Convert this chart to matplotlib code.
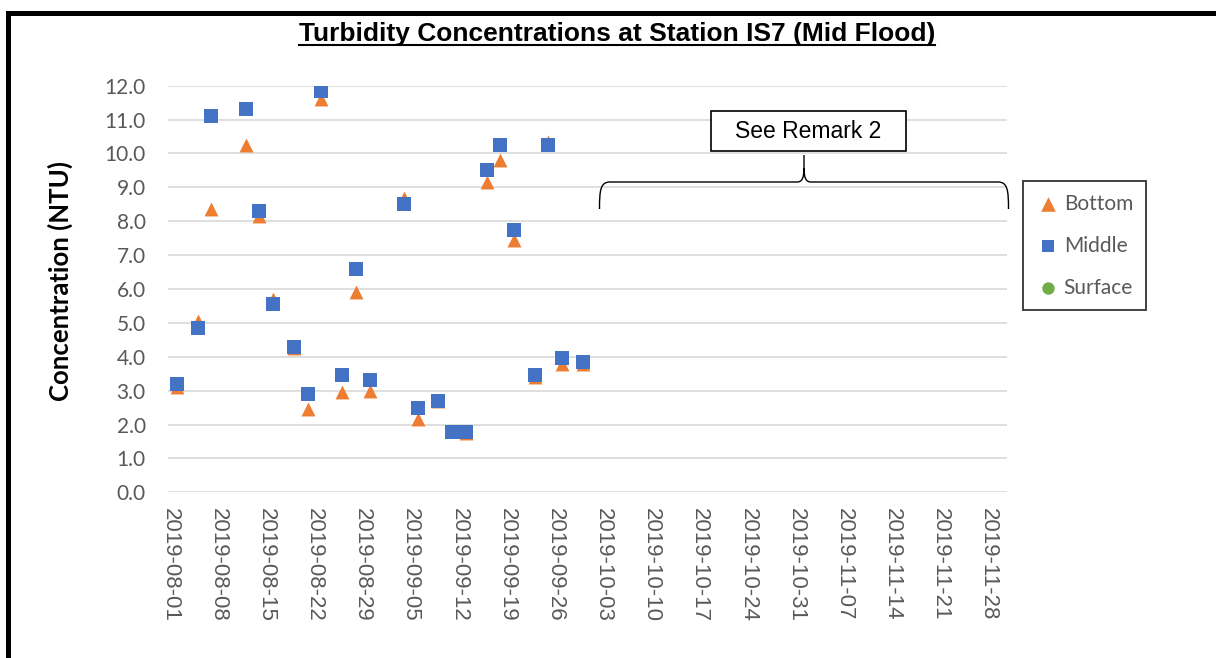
import matplotlib
matplotlib.use('Agg')
import matplotlib.pyplot as plt
import matplotlib.dates as mdates
import matplotlib.transforms as mtransforms
from matplotlib.path import Path
from matplotlib.patches import PathPatch, Rectangle
from matplotlib.lines import Line2D
import numpy as np
import pandas as pd

# sampling dates and turbidity readings (NTU)
dates = pd.to_datetime(['2019-08-02', '2019-08-05', '2019-08-07', '2019-08-12', '2019-08-14',
                        '2019-08-16', '2019-08-19', '2019-08-21', '2019-08-23', '2019-08-26',
                        '2019-08-28', '2019-08-30', '2019-09-04', '2019-09-06', '2019-09-09',
                        '2019-09-11', '2019-09-13', '2019-09-16', '2019-09-18', '2019-09-20',
                        '2019-09-23', '2019-09-25', '2019-09-27', '2019-09-30'])
bottom = [3.10, 5.05, 8.35, 10.25, 8.15, 5.70, 4.25, 2.45, 11.60, 2.95, 5.90, 3.00,
          8.70, 2.15, 2.70, 1.80, 1.75, 9.15, 9.80, 7.45, 3.40, 10.35, 3.80, 3.80]
middle = [3.20, 4.85, 11.10, 11.30, 8.30, 5.55, 4.30, 2.90, 11.85, 3.45, 6.60, 3.30,
          8.50, 2.50, 2.70, 1.77, 1.77, 9.50, 10.25, 7.75, 3.45, 10.25, 3.95, 3.85]
surface_dates = []
surface = []

tick_dates = pd.date_range('2019-08-01', '2019-11-28', freq='7D')
y_ticks = np.arange(0, 12.1, 1.0)

W, H = 1216, 658
fig = plt.figure(figsize=(W / 100, H / 100), dpi=100, facecolor='white')
ax = fig.add_axes([168 / W, 1 - 492.3 / H, (1006.7 - 168) / W, (492.3 - 85.7) / H])

# pixel coords (from top-left) -> figure
px = mtransforms.Affine2D().scale(1 / W, -1 / H).translate(0, 1) + fig.transFigure

grey = '#595959'
ax.scatter(dates, bottom, marker='^', s=100, color='#ED7D31', linewidths=0, zorder=3, label='Bottom')
ax.scatter(dates, middle, marker='s', s=100, color='#4472C4', linewidths=0, zorder=4, label='Middle')
ax.scatter(surface_dates, surface, marker='o', s=100, color='#70AD47', linewidths=0, zorder=5, label='Surface')

start = pd.Timestamp('2019-08-01')
ax.set_xlim(start - pd.Timedelta(hours=7), start + pd.Timedelta(days=121.6))
ax.set_ylim(0, 12)
ax.set_yticks(y_ticks)
ax.set_yticklabels(['%.1f' % v for v in y_ticks], fontname='Lato', fontsize=15, color=grey)
ax.set_xticks(tick_dates)
ax.xaxis.set_major_formatter(mdates.DateFormatter('%Y-%m-%d'))
for lab in ax.get_xticklabels():
    lab.set_rotation(-90)
    lab.set_fontname('Liberation Sans')
    lab.set_fontsize(16)
    lab.set_color(grey)
    lab.set_va('top')
    lab.set_ha('center')
ax.tick_params(axis='both', length=0)
ax.tick_params(axis='x', pad=11)
ax.tick_params(axis='y', pad=16)
ax.grid(axis='y', color='#d9d9d9', linewidth=1.2)
ax.set_axisbelow(True)
for sp in ax.spines.values():
    sp.set_visible(False)

fig.text(60 / W, 1 - 281 / H, 'Concentration (NTU)', rotation=90, ha='center', va='center',
         fontname='Lato', fontweight='bold', fontsize=18.5, color='black')

# title with underline
title = fig.text(617 / W, 1 - 41 / H, 'Turbidity Concentrations at Station IS7 (Mid Flood)',
                 ha='center', va='baseline', fontname='Liberation Sans', fontweight='bold',
                 fontsize=19, color='black')
fig.canvas.draw()
bb = title.get_window_extent(fig.canvas.get_renderer())
fig.add_artist(Line2D([bb.x0 / W, bb.x1 / W], [1 - 44.5 / H, 1 - 44.5 / H],
                      transform=fig.transFigure, color='black', linewidth=1.5))

leg = fig.legend(loc='upper left', bbox_to_anchor=(1023 / W, 1 - 181 / H), frameon=True,
                 fancybox=False, edgecolor='black', prop={'family': 'Lato', 'size': 15},
                 labelspacing=1.06, handletextpad=0.15, handlelength=1.2, borderpad=0.6,
                 borderaxespad=0)
leg.get_frame().set_linewidth(1.3)
for t in leg.get_texts():
    t.set_color(grey)
for h, sz in zip(leg.legend_handles, [110, 80, 80]):
    h.set_sizes([sz])

# "See Remark 2" box and brace
fig.add_artist(Rectangle((710.7, 110.7), 195.3, 40, transform=px, facecolor='white',
                         edgecolor='black', linewidth=1.2, zorder=6))
fig.text(808.4 / W, 1 - 131 / H, 'See Remark 2', ha='center', va='center',
         fontname='Liberation Sans', fontsize=16.5, color='black', zorder=7)

verts = [(599.5, 209), (599.5, 190), (600.5, 182), (610, 182), (797, 182),
         (802, 182), (804, 178), (804, 168), (804, 155),
         (804, 168), (804, 178), (806, 182), (811, 182), (998, 182),
         (1007.5, 182), (1008.5, 190), (1008.5, 209)]
codes = [Path.MOVETO, Path.CURVE4, Path.CURVE4, Path.CURVE4, Path.LINETO,
         Path.CURVE4, Path.CURVE4, Path.CURVE4, Path.LINETO,
         Path.MOVETO, Path.CURVE4, Path.CURVE4, Path.CURVE4, Path.LINETO,
         Path.CURVE4, Path.CURVE4, Path.CURVE4]
fig.add_artist(PathPatch(Path(verts, codes), transform=px, facecolor='none',
                         edgecolor='black', linewidth=1.0))

# outer frame (top and left edges)
fig.add_artist(Line2D([7.5, 7.5, W], [H, 12.5, 12.5], transform=px, color='black',
                      linewidth=3.6, solid_joinstyle='miter'))

fig.savefig('out.png', dpi=100, facecolor='white')
